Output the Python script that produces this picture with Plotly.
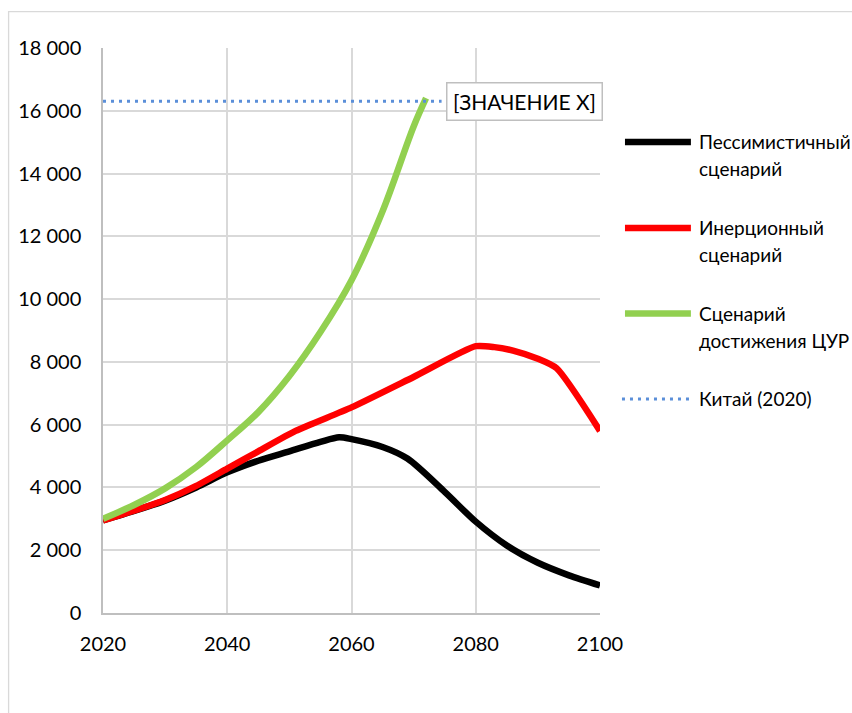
import plotly.graph_objects as go

# ---------------- data ----------------
black_name = "Пессимистичный сценарий"
black_years = [2020, 2025, 2030, 2035, 2040, 2045, 2050, 2055, 2058, 2060, 2065, 2069, 2075, 2080, 2085, 2090, 2095, 2100]
black_vals = [2950, 3250, 3580, 4000, 4480, 4850, 5150, 5450, 5600, 5540, 5290, 4920, 3860, 2910, 2150, 1600, 1200, 880]

red_name = "Инерционный сценарий"
red_years = [2020, 2025, 2030, 2035, 2040, 2045, 2051, 2060, 2070, 2080, 2083, 2086, 2090, 2093, 2100]
red_vals = [2950, 3260, 3600, 4050, 4600, 5150, 5800, 6550, 7520, 8500, 8470, 8360, 8100, 7800, 5800]

green_name = "Сценарий достижения ЦУР"
green_years = [2020, 2025, 2030, 2035, 2040, 2045, 2050, 2055, 2060, 2065, 2070, 2072]
green_vals = [3000, 3440, 3970, 4650, 5500, 6400, 7550, 8950, 10600, 12800, 15500, 16400]

china_name = "Китай (2020)"
china_years = [2020, 2074.5]
china_vals = [16300, 16300]
china_label = "[ЗНАЧЕНИЕ X]"

x_ticks = [2020, 2040, 2060, 2080, 2100]
x_ticktext = ["2020", "2040", "2060", "2080", "2100"]
y_ticks = [0, 2000, 4000, 6000, 8000, 10000, 12000, 14000, 16000, 18000]
y_ticktext = ["0", "2 000", "4 000", "6 000", "8 000", "10 000", "12 000", "14 000", "16 000", "18 000"]

legend_lines = [["Пессимистичный", "сценарий"], ["Инерционный", "сценарий"],
                ["Сценарий", "достижения ЦУР"], ["Китай (2020)"]]

# ---------------- style ----------------
W, H = 852, 713
L, R, T, B = 102.5, 600, 48.3, 613.5
FONT = "Lato"
BLACK, RED, GREEN, BLUE = "#000000", "#ff0000", "#92d050", "#5b8fd9"
GRID = "#d9d9d9"
LW = 6.5


def px_x(p):
    return (p - L) / (R - L)


def px_y(p):
    return (B - p) / (B - T)


fig = go.Figure()
fig.add_trace(go.Scatter(x=black_years, y=black_vals, name=black_name, mode="lines",
                         line=dict(color=BLACK, width=LW, shape="spline", smoothing=0.8)))
fig.add_trace(go.Scatter(x=red_years, y=red_vals, name=red_name, mode="lines",
                         line=dict(color=RED, width=LW, shape="spline", smoothing=0.6)))
fig.add_trace(go.Scatter(x=green_years, y=green_vals, name=green_name, mode="lines",
                         line=dict(color=GREEN, width=LW, shape="spline", smoothing=1.0)))
fig.add_trace(go.Scatter(x=china_years, y=china_vals, name=china_name, mode="lines",
                         line=dict(color=BLUE, width=3, dash="3px,5px")))

annotations = [dict(x=china_years[-1], y=china_vals[-1], xref="x", yref="y",
                    text=china_label, showarrow=False, xanchor="left", yanchor="middle",
                    xshift=4, width=142, height=24, borderpad=6,
                    bordercolor="#bfbfbf", borderwidth=1.5, bgcolor="white",
                    font=dict(family=FONT, size=21, color="#000000"))]
shapes = [dict(type="rect", xref="paper", yref="paper",
               x0=px_x(8), x1=px_x(880), y0=px_y(740), y1=px_y(12),
               line=dict(color=GRID, width=1.3), fillcolor="rgba(0,0,0,0)", layer="below")]

leg_colors = [BLACK, RED, GREEN, BLUE]
leg_y = [142.3, 228.3, 314.0, 399.3]
for i, lines in enumerate(legend_lines):
    yc = leg_y[i]
    if i < 3:
        shapes.append(dict(type="line", xref="paper", yref="paper",
                           x0=px_x(625), x1=px_x(691), y0=px_y(yc), y1=px_y(yc),
                           line=dict(color=leg_colors[i], width=LW)))
    else:
        shapes.append(dict(type="line", xref="paper", yref="paper",
                           x0=px_x(622), x1=px_x(691), y0=px_y(yc), y1=px_y(yc),
                           line=dict(color=leg_colors[i], width=3, dash="3px,5px")))
    for j, txt in enumerate(lines):
        annotations.append(dict(x=px_x(697), y=px_y(yc + 26.5 * j), xref="paper", yref="paper",
                                text=txt, showarrow=False, xanchor="left", yanchor="middle",
                                font=dict(family=FONT, size=19, color="#000000")))

fig.update_layout(
    width=W, height=H,
    margin=dict(l=L, r=W - R, t=T, b=H - B),
    paper_bgcolor="white", plot_bgcolor="white",
    showlegend=False,
    font=dict(family=FONT, size=20, color="#000000"),
    annotations=annotations, shapes=shapes,
)
fig.update_xaxes(range=[2020, 2100], tickvals=x_ticks, ticktext=x_ticktext,
                 showgrid=True, gridcolor=GRID, gridwidth=1.5,
                 showline=True, linecolor="#bfbfbf", linewidth=1.5,
                 ticks="", ticklabelstandoff=12, zeroline=False,
                 tickfont=dict(family=FONT, size=20, color="#000000"))
fig.update_yaxes(range=[0, 18000], tickvals=y_ticks, ticktext=y_ticktext,
                 showgrid=True, gridcolor=GRID, gridwidth=1.5,
                 showline=True, linecolor="#bfbfbf", linewidth=1.5,
                 ticks="", ticklabelstandoff=16, zeroline=False,
                 tickfont=dict(family=FONT, size=20, color="#000000"))

fig.write_html("out.html", config={"displayModeBar": False},
               post_script="document.body.style.margin='0';document.body.style.overflow='hidden';")
